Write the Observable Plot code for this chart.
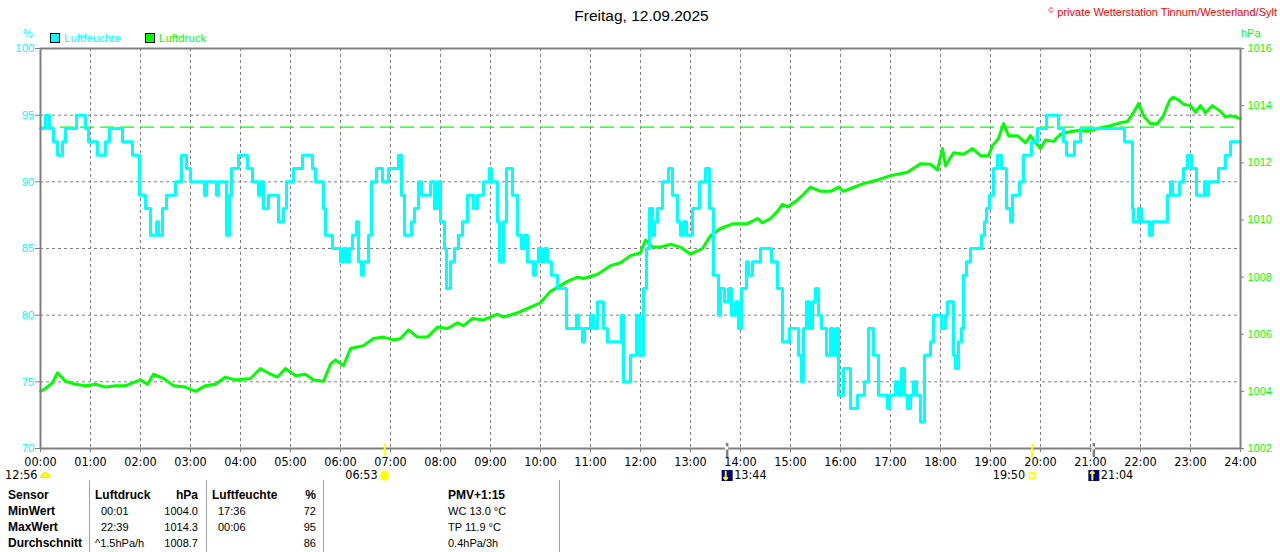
<!DOCTYPE html>
<html>
<head>
<meta charset="utf-8">
<script src="https://cdn.jsdelivr.net/npm/d3@7"></script>
<script src="https://cdn.jsdelivr.net/npm/@observablehq/plot@0.6"></script>
<style>
html,body{margin:0;padding:0;background:#fff;}
#wrap{position:relative;width:1280px;height:552px;overflow:hidden;font-family:"Liberation Sans",Arial,sans-serif;}
#chart{position:absolute;left:0;top:0;}
.t{position:absolute;white-space:nowrap;}
.vline{position:absolute;width:1px;background:#a0a0a0;top:480px;height:72px;}
.box{position:absolute;width:8px;height:8px;border:1px solid #000;top:33px;}
</style>
</head>
<body>
<div id="wrap"><div id="chart"></div></div>
<script>
// ---------------- data ----------------
const titleText = "Freitag, 12.09.2025";
const copyrightText = "private Wetterstation Tinnum/Westerland/Sylt";
const hourTicks = [0,1,2,3,4,5,6,7,8,9,10,11,12,13,14,15,16,17,18,19,20,21,22,23,24];
const hourLabels = ["00:00","01:00","02:00","03:00","04:00","05:00","06:00","07:00","08:00","09:00","10:00","11:00","12:00","13:00","14:00","15:00","16:00","17:00","18:00","19:00","20:00","21:00","22:00","23:00","24:00"];
const humTicks = [70,75,80,85,90,95,100];
const presTicks = [1002,1004,1006,1008,1010,1012,1014,1016];
const refPressure = 1013.25;

// humidity [hour, %] (stepped)
const humidity = [[0,94],[0.10,95],[0.18,94],[0.26,93],[0.34,92],[0.44,93],[0.50,94],[0.72,95],[0.90,94],[0.96,93],
[1.14,92],[1.30,93],[1.38,94],[1.64,93],[1.84,92],[1.98,89],[2.10,88],[2.20,86],[2.32,87],[2.36,86],
[2.44,88],[2.52,89],[2.70,90],[2.82,92],[2.92,91],[3.00,90],[3.28,89],[3.32,90],[3.52,89],[3.56,90],
[3.72,86],[3.78,89],[3.82,91],[3.96,92],[4.14,91],[4.24,90],[4.36,89],[4.40,90],[4.46,88],[4.56,89],
[4.76,87],[4.86,88],[4.92,90],[5.06,91],[5.24,92],[5.44,91],[5.50,90],[5.66,88],[5.70,86],[5.84,85],
[6.00,84],[6.06,85],[6.12,84],[6.18,85],[6.24,86],[6.32,87],[6.36,84],[6.42,83],[6.46,84],[6.56,86],
[6.62,90],[6.72,91],[6.84,90],[6.96,91],[7.16,92],[7.22,89],[7.28,86],[7.42,87],[7.48,88],[7.56,90],
[7.62,89],[7.80,90],[7.88,88],[7.94,90],[8.00,87],[8.08,85],[8.12,82],[8.20,84],[8.28,85],[8.36,86],
[8.44,87],[8.54,89],[8.66,88],[8.74,89],[8.86,90],[8.98,91],[9.02,90],[9.14,87],[9.18,84],[9.26,87],
[9.32,91],[9.44,89],[9.54,86],[9.62,85],[9.68,86],[9.74,84],[9.86,83],[9.90,84],[9.96,85],[10.02,84],
[10.08,85],[10.14,84],[10.22,83],[10.34,82],[10.52,79],[10.72,80],[10.76,79],[10.84,78],[10.88,79],[11.00,80],
[11.06,79],[11.14,81],[11.26,79],[11.34,78],[11.62,80],[11.66,75],[11.80,77],[11.92,80],[11.98,77],[12.06,82],
[12.12,85],[12.18,88],[12.24,86],[12.28,87],[12.34,88],[12.44,90],[12.56,91],[12.64,89],[12.74,87],[12.80,86],
[12.86,87],[12.92,86],[13.04,88],[13.18,90],[13.30,91],[13.38,88],[13.46,83],[13.56,80],[13.60,82],[13.68,81],
[13.76,82],[13.82,80],[13.90,81],[13.96,79],[14.02,82],[14.12,84],[14.16,83],[14.24,84],[14.40,85],[14.62,84],
[14.74,82],[14.84,78],[14.98,79],[15.16,77],[15.22,75],[15.26,79],[15.32,81],[15.38,79],[15.44,81],[15.50,82],
[15.56,80],[15.62,79],[15.72,77],[15.80,79],[15.86,77],[15.92,79],[15.96,74],[16.06,76],[16.20,73],[16.34,74],
[16.48,75],[16.56,79],[16.66,77],[16.76,74],[16.94,73],[16.98,74],[17.10,75],[17.16,74],[17.22,76],[17.28,74],
[17.34,73],[17.40,74],[17.46,75],[17.52,74],[17.60,72],[17.68,77],[17.80,78],[17.86,80],[18.02,79],[18.10,80],
[18.14,81],[18.26,77],[18.30,76],[18.36,78],[18.42,79],[18.46,83],[18.52,84],[18.60,85],[18.82,86],[18.88,87],
[18.92,88],[18.98,89],[19.06,91],[19.14,92],[19.22,91],[19.32,88],[19.40,87],[19.44,89],[19.58,90],[19.66,92],
[19.82,93],[19.94,94],[20.12,95],[20.36,94],[20.46,93],[20.52,92],[20.68,93],[20.80,94],[21.68,93],[21.84,88],
[21.86,87],[21.96,88],[22.02,87],[22.18,86],[22.24,87],[22.54,89],[22.60,90],[22.64,89],[22.78,90],[22.86,91],
[22.94,92],[23.02,91],[23.12,89],[23.28,90],[23.32,89],[23.36,90],[23.56,91],[23.70,92],[23.80,93],[24.00,93]];

// air pressure [hour, hPa]
const pressure = [[0,1004.0],[0.10,1004.1],[0.24,1004.3],[0.34,1004.65],[0.50,1004.35],[0.70,1004.25],[0.90,1004.2],
[1.10,1004.25],[1.30,1004.15],[1.50,1004.2],[1.70,1004.2],[2.00,1004.4],[2.14,1004.25],[2.26,1004.6],[2.46,1004.45],
[2.66,1004.2],[2.90,1004.15],[3.10,1004.0],[3.30,1004.2],[3.50,1004.25],[3.70,1004.5],[3.90,1004.4],[4.20,1004.45],
[4.40,1004.8],[4.60,1004.6],[4.74,1004.5],[4.90,1004.8],[5.10,1004.55],[5.30,1004.6],[5.46,1004.4],[5.66,1004.35],
[5.80,1004.95],[5.90,1005.1],[6.06,1004.9],[6.20,1005.5],[6.46,1005.6],[6.66,1005.85],[6.86,1005.9],[7.06,1005.8],
[7.20,1005.85],[7.36,1006.15],[7.54,1005.9],[7.74,1005.9],[7.94,1006.25],[8.14,1006.2],[8.34,1006.4],[8.46,1006.3],
[8.64,1006.55],[8.86,1006.5],[9.14,1006.7],[9.26,1006.6],[9.54,1006.75],[9.80,1006.95],[10.00,1007.1],[10.20,1007.5],
[10.40,1007.7],[10.54,1007.85],[10.74,1008.0],[10.86,1007.95],[11.14,1008.1],[11.40,1008.4],[11.60,1008.5],[11.80,1008.75],
[12.00,1008.85],[12.10,1009.3],[12.24,1009.05],[12.40,1009.05],[12.60,1009.15],[12.80,1009.05],[13.00,1008.8],[13.24,1009.0],
[13.40,1009.45],[13.60,1009.7],[13.86,1009.87],[14.14,1009.87],[14.34,1010.05],[14.44,1009.9],[14.60,1010.05],[14.74,1010.3],
[14.84,1010.55],[14.94,1010.45],[15.14,1010.7],[15.26,1010.9],[15.40,1011.15],[15.60,1011.0],[15.80,1011.0],[15.96,1011.15],
[16.06,1011.0],[16.20,1011.1],[16.46,1011.27],[16.74,1011.4],[17.00,1011.55],[17.34,1011.67],[17.60,1011.97],[17.80,1011.95],
[17.94,1011.75],[18.04,1012.5],[18.10,1011.9],[18.26,1012.35],[18.46,1012.3],[18.64,1012.5],[18.80,1012.25],[18.96,1012.25],
[19.04,1012.6],[19.16,1012.85],[19.26,1013.37],[19.36,1012.95],[19.54,1012.95],[19.70,1012.7],[19.80,1012.95],[19.86,1012.8],
[20.00,1012.5],[20.10,1012.8],[20.26,1012.75],[20.40,1013.0],[20.54,1013.07],[20.74,1013.13],[20.94,1013.1],[21.14,1013.2],
[21.40,1013.3],[21.60,1013.4],[21.74,1013.45],[21.84,1013.7],[21.96,1014.07],[22.06,1013.65],[22.20,1013.37],[22.34,1013.37],
[22.46,1013.65],[22.58,1014.18],[22.65,1014.3],[22.76,1014.2],[22.86,1014.05],[23.00,1014.0],[23.10,1013.77],[23.20,1014.0],
[23.30,1013.75],[23.44,1014.0],[23.60,1013.8],[23.70,1013.6],[23.80,1013.65],[24.00,1013.55]];

// astronomical events
const dayLength = "12:56";
const sunEvents = [{time:"06:53", kind:"rise"}, {time:"19:50", kind:"set"}];
const moonEvents = [{time:"13:44", kind:"set"}, {time:"21:04", kind:"rise"}];

// table
const tableHeader = ["Sensor","Luftdruck","hPa","Luftfeuchte","%","PMV+1:15"];
const rowNames = ["MinWert","MaxWert","Durchschnitt"];
const presTimesTbl = ["00:01","22:39","^1.5hPa/h"];
const presValsTbl = ["1004.0","1014.3","1008.7"];
const humTimesTbl = ["17:36","00:06",""];
const humValsTbl = ["72","95","86"];
const extraTbl = ["WC 13.0 °C","TP 11.9 °C","0.4hPa/3h"];

// ---------------- helpers ----------------
const CYAN = "#00ffff", GREEN = "#00ff00", GRAY = "#808080", YELLOW = "#ffff00";
const NARROW = "'Liberation Sans Narrow','Arial Narrow','DejaVu Sans Condensed','Liberation Sans',sans-serif";
const SANS = "'Liberation Sans',Arial,sans-serif";
const hrs = s => { const [h, m] = s.split(":").map(Number); return h + m / 60; };
// map pressure onto the humidity axis (1002..1016 hPa  <->  70..100 %)
const pToH = p => 70 + (p - 1002) * 30 / 14;
const presLabel = new Map(presTicks.map(p => [pToH(p), String(p)]));

const humData = humidity.map(([t, v]) => ({t, v}));
const presData = pressure.map(([t, p]) => ({t, p}));
const sunData = sunEvents.map(d => ({...d, x: hrs(d.time)}));
const moonData = moonEvents.map(d => ({...d, x: hrs(d.time)}));

const halfDisc = {draw(ctx, size) { const r = Math.sqrt(size / Math.PI); ctx.moveTo(r, 0); ctx.arc(0, 0, r, 0, Math.PI, true); ctx.closePath(); }};
const EV = {frameAnchor: "bottom", lineAnchor: "top", dy: 22, fontSize: 12.5, fontFamily: NARROW, fill: "#000"};

const chart = Plot.plot({
  width: 1280, height: 480,
  marginTop: 48, marginBottom: 32, marginLeft: 40, marginRight: 40,
  x: {domain: [0, 24]},
  y: {domain: [70, 100]},
  style: {fontFamily: SANS, fontSize: "11px", background: "transparent", overflow: "visible", color: "#000"},
  marks: [
    Plot.gridY(humTicks.slice(1, -1), {stroke: GRAY, strokeOpacity: 1, strokeDasharray: "3,3"}),
    Plot.gridX(hourTicks.slice(1, -1), {stroke: GRAY, strokeOpacity: 1, strokeDasharray: "3,3"}),
    Plot.ruleY([pToH(refPressure)], {stroke: GREEN, strokeWidth: 1.3, strokeDasharray: "14,6"}),
    Plot.line(presData, {x: "t", y: d => pToH(d.p), stroke: GREEN, strokeWidth: 3}),
    Plot.line(humData, {x: "t", y: "v", curve: "step-after", stroke: CYAN, strokeWidth: 3}),
    Plot.frame({stroke: GRAY, strokeWidth: 2}),
    Plot.axisY(humTicks, {anchor: "left", tickSize: 5, tickPadding: 1, stroke: GRAY, fill: CYAN, label: null, fontSize: 11.5, fontFamily: SANS}),
    Plot.axisY(presTicks.map(pToH), {anchor: "right", tickSize: 3, tickPadding: 4, stroke: GRAY, fill: GREEN, label: null, fontSize: 11, fontFamily: SANS, tickFormat: h => presLabel.get(h)}),
    Plot.axisX(hourTicks, {anchor: "bottom", tickSize: 4, tickPadding: 5, stroke: GRAY, fill: "#000", label: null, fontSize: 12.5, fontFamily: NARROW, tickFormat: h => hourLabels[hourTicks.indexOf(h)]}),
    // sunrise / sunset markers
    Plot.ruleX(sunData, {x: "x", stroke: YELLOW, strokeWidth: 2, insetTop: 396, insetBottom: -9}),
    Plot.ruleX(moonData, {x: "x", stroke: GRAY, strokeWidth: 2.5, insetTop: 395, insetBottom: -9}),
    // day length
    Plot.text([dayLength], {...EV, x: 0, text: d => d, dx: -3, textAnchor: "end"}),
    Plot.dot([dayLength], {x: 0, frameAnchor: "bottom", dy: 29, dx: 5, symbol: halfDisc, r: 5, fill: YELLOW, stroke: "#e8d000", strokeWidth: 0.5}),
    // sun events
    Plot.text(sunData, {...EV, x: "x", text: "time", dx: -7, textAnchor: "end"}),
    Plot.dot(sunData.filter(d => d.kind === "rise"), {x: "x", frameAnchor: "bottom", dy: 27, r: 6, fill: "#ffffa8"}),
    Plot.dot(sunData.filter(d => d.kind === "rise"), {x: "x", frameAnchor: "bottom", dy: 27, r: 4, fill: YELLOW}),
    Plot.dot(sunData.filter(d => d.kind === "set"), {x: "x", frameAnchor: "bottom", dy: 27, symbol: "square", r: 3, fill: "none", stroke: YELLOW, strokeWidth: 1.5}),
    // moon events
    Plot.dot(moonData, {x: "x", frameAnchor: "bottom", dy: 27, symbol: "square", r: 6.2, fill: "#000080"}),
    Plot.dot(moonData, {x: "x", frameAnchor: "bottom", dy: d => d.kind === "set" ? 31 : 22, dx: d => d.kind === "set" ? 3 : -3, r: 1.8, fill: "#ffffff"}),
    Plot.vector(moonData, {x: "x", frameAnchor: "bottom", dy: 27, dx: -1.5, length: 8, rotate: d => d.kind === "set" ? 180 : 0, stroke: YELLOW, strokeWidth: 2}),
    Plot.text(moonData, {...EV, x: "x", text: "time", dx: 7, textAnchor: "start"})
  ]
});
document.getElementById("chart").appendChild(chart);

// ---------------- html text ----------------
const wrap = document.getElementById("wrap");
function label(txt, x, baseline, o = {}) {
  const {size = 11, weight = "normal", color = "#000", anchor = "start", family = SANS, html = false} = o;
  const d = document.createElement("div");
  d.className = "t";
  if (html) d.innerHTML = txt; else d.textContent = txt;
  Object.assign(d.style, {fontSize: size + "px", lineHeight: size + "px", fontWeight: weight, color, fontFamily: family, top: (baseline - 0.8465 * size) + "px"});
  if (anchor === "start") d.style.left = x + "px";
  else if (anchor === "end") d.style.right = (1280 - x) + "px";
  else { d.style.left = x + "px"; d.style.transform = "translateX(-50%)"; }
  wrap.appendChild(d);
  return d;
}
label(titleText, 641.5, 21, {size: 15.5, anchor: "middle"});
label('<span style="font-size:8px;position:relative;top:-3px">©</span> ' + copyrightText, 1277, 16, {size: 11, color: "#ff0000", anchor: "end", html: true});
label("%", 23, 37, {size: 11, color: CYAN});
label("hPa", 1241, 37, {size: 11, color: GREEN});

// legend
const legendItems = [{name: "Luftfeuchte", color: CYAN, x: 50}, {name: "Luftdruck", color: GREEN, x: 145}];
for (const it of legendItems) {
  const b = document.createElement("div");
  b.className = "box"; b.style.left = it.x + "px"; b.style.background = it.color;
  wrap.appendChild(b);
  label(it.name, it.x + 14, 42.5, {size: 11.5, color: it.color});
}

// table
for (const x of [89, 206, 323, 559]) {
  const l = document.createElement("div"); l.className = "vline"; l.style.left = x + "px"; wrap.appendChild(l);
}
const bases = [499, 515, 531, 547];
const B = {size: 12, weight: "bold"};
label(tableHeader[0], 8, bases[0], B);
label(tableHeader[1], 95, bases[0], B);
label(tableHeader[2], 198, bases[0], {...B, anchor: "end"});
label(tableHeader[3], 212, bases[0], B);
label(tableHeader[4], 316, bases[0], {...B, anchor: "end"});
label(tableHeader[5], 448, bases[0], B);
rowNames.forEach((name, i) => {
  const y = bases[i + 1];
  label(name, 8, y, B);
  label(presTimesTbl[i], i === 2 ? 95 : 101, y, {size: 11});
  label(presValsTbl[i], 198, y, {size: 11, anchor: "end"});
  if (humTimesTbl[i]) label(humTimesTbl[i], 218, y, {size: 11});
  label(humValsTbl[i], 316, y, {size: 11, anchor: "end"});
  label(extraTbl[i], 448, y, {size: 11});
});
</script>
</body>
</html>
